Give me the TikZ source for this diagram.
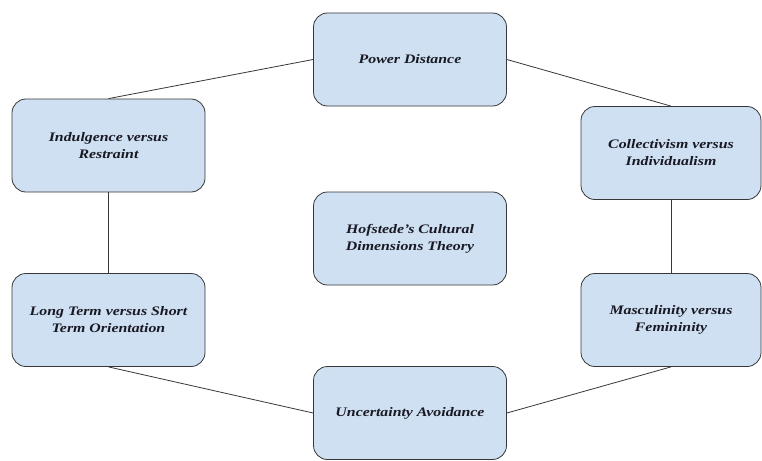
\documentclass[tikz,border=0pt]{standalone}
\usepackage{fontspec}
\setmainfont{Liberation Serif}[FakeStretch=1.22]
\definecolor{boxfill}{RGB}{207,224,242}
\definecolor{boxline}{RGB}{55,55,55}
\definecolor{boxtext}{RGB}{25,25,35}

\begin{document}
\begin{tikzpicture}[x=1pt, y=-1pt,
		dimbox/.style={draw=boxline, fill=boxfill, rounded corners=14pt, line width=0.8pt,
			minimum width=193pt, minimum height=93pt, align=center, text=boxtext,
			font=\fontsize{13}{17}\selectfont\bfseries\itshape},
		link/.style={draw=boxline, line width=0.8pt}]
		\useasboundingbox (0,0) rectangle (762,460);
		% the six dimensions round the theory
		\node[dimbox] (power) at (410,59.5) {Power Distance};
		\node[dimbox] (indul) at (108.5,145.5) {Indulgence versus\\Restraint};
		\node[dimbox, minimum width=180pt] (coll) at (671,153) {Collectivism versus\\Individualism};
		\node[dimbox] (theory) at (410,238.5) {Hofstede’s Cultural\\Dimensions Theory};
		\node[dimbox] (longterm) at (108.5,320) {Long Term versus Short\\Term Orientation};
		\node[dimbox, minimum width=180pt] (masc) at (671,320) {Masculinity versus\\Femininity};
		\node[dimbox] (uncert) at (410,413) {Uncertainty Avoidance};
		\draw[link] (indul.north) -- (power.west);
		\draw[link] (power.east) -- (coll.north);
		\draw[link] (indul.south) -- (longterm.north);
		\draw[link] (coll.south) -- (masc.north);
		\draw[link] (longterm.south) -- (uncert.west);
		\draw[link] (masc.south) -- (uncert.east);
		\end{tikzpicture}
\end{document}
